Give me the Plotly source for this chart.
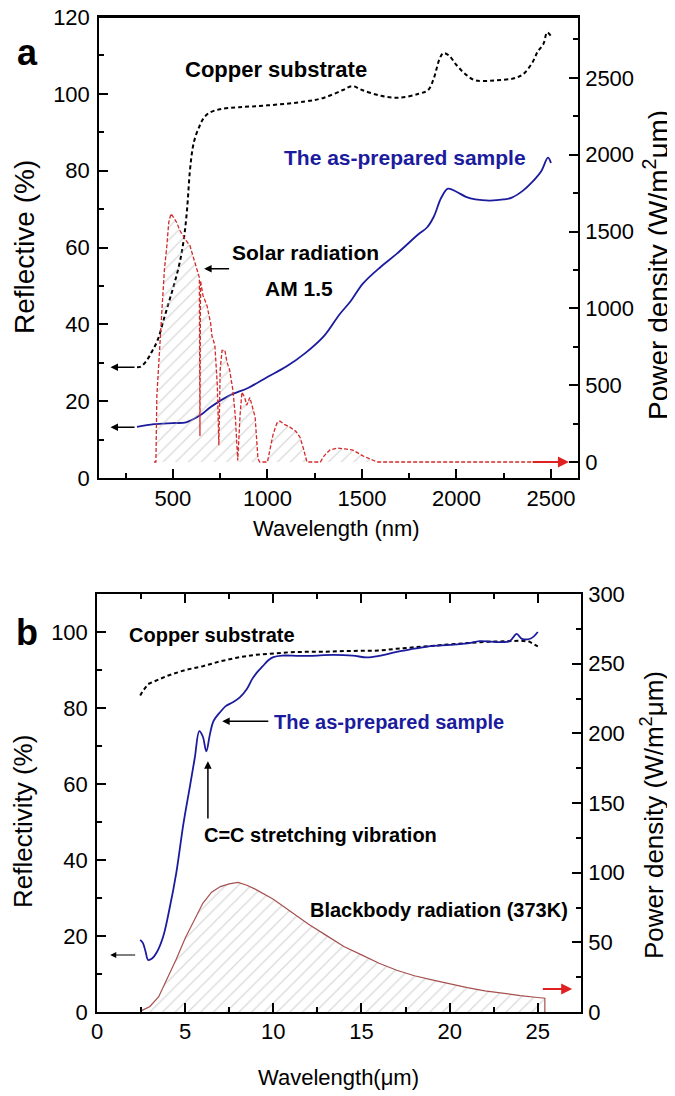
import plotly.graph_objects as go

# ---- panel a: UV-vis-NIR reflectance ----
cu_nm = [310, 330, 360, 390, 420, 450, 480, 510, 540, 560, 575, 590, 605, 620, 640, 660, 690,
         750, 850, 1000, 1200, 1300, 1400, 1450, 1500, 1600, 1700, 1800, 1850, 1880, 1910, 1930,
         1960, 2000, 2050, 2100, 2200, 2300, 2350, 2400, 2430, 2460, 2480, 2500]
cu_refl = [28.8, 29, 30.5, 33, 36, 41, 46, 51, 57, 63, 70, 80, 86, 89, 91.5, 93.5, 95,
           96, 96.5, 97, 98, 99, 101, 102, 101, 99.5, 99, 100, 101, 104, 109, 110.6,
           110, 107.5, 105, 103.5, 103.5, 104, 105, 108, 111, 113, 116, 115]

smp_nm = [310, 400, 500, 570, 650, 700, 800, 900, 1000, 1100, 1200, 1300, 1380, 1440, 1505,
          1600, 1685, 1800, 1844, 1880, 1920, 1955, 2000, 2050, 2100, 2177, 2250, 2293, 2352,
          2400, 2450, 2484, 2500]
smp_refl = [13.3, 14, 14.3, 14.5, 16.5, 18.5, 21.5, 23.5, 26.3, 29, 32.5, 37, 42.5, 46, 50.6,
            55, 58.4, 63.5, 65.2, 68, 73, 75.3, 74.5, 73.2, 72.5, 72.2, 72.5, 73, 74.8,
            77, 80, 83.4, 82]

solar_nm = [400, 410, 415, 425, 431, 440, 447, 455, 468, 478, 490, 500, 510, 521, 535, 553,
            570, 590, 605, 616, 630, 640, 643, 646, 659, 670, 680, 690, 700, 706, 715, 722,
            735, 743, 750, 760, 775, 786, 800, 810, 817, 830, 843, 855, 865, 880, 890, 907,
            920, 935, 950, 960, 1000, 1010, 1030, 1050, 1066, 1090, 1119, 1150, 1172, 1190,
            1209, 1280, 1300, 1330, 1368, 1410, 1452, 1505, 1580, 2500]
solar_pd = [0, 0, 430, 600, 760, 950, 1084, 1250, 1408, 1560, 1617, 1600, 1580, 1557, 1510, 1473,
            1440, 1408, 1350, 1298, 1240, 1200, 170, 1180, 1084, 1050, 1019, 960, 900, 824, 790, 760,
            500, 110, 600, 727, 727, 649, 600, 520, 470, 300, 10, 300, 455, 420, 370, 420,
            360, 292, 20, 0, 0, 60, 180, 253, 266, 245, 227, 200, 162, 90,
            0, 0, 40, 78, 91, 85, 78, 40, 0, 0]

# ---- panel b: mid-IR reflectance ----
cu2_um = [2.45, 2.6, 2.9, 3.5, 4, 5, 6, 7, 8, 9, 10, 11, 12, 13, 14, 15, 16, 17, 18, 19, 20,
          21, 22, 23, 24, 24.5, 25]
cu2_refl = [83.3, 84.5, 86.3, 87.5, 88.5, 90, 91, 92.3, 93.3, 94, 94.4, 94.7, 94.8, 94.8, 95, 95,
            95.1, 95.6, 96, 96.3, 96.7, 97.1, 97.4, 97.6, 97.7, 97.5, 96.2]

smp2_um = [2.45, 2.6, 2.75, 2.9, 3.1, 3.4, 3.75, 4.1, 4.5, 4.9, 5.27, 5.55, 5.8, 6.0, 6.2, 6.4,
           6.6, 7.0, 7.3, 7.7, 8.1, 8.5, 8.8, 9.1, 9.4, 9.7, 10, 10.5, 11.5, 12.5, 13.4, 14.5,
           15.3, 16, 17, 18, 18.9, 20, 21, 21.7, 22.5, 23.4, 23.8, 24.1, 24.6, 25]
smp2_refl = [19, 18.2, 16, 13.7, 14, 15.8, 19.8, 26.9, 36.7, 49.5, 59.4, 67, 73.9, 72.5, 68.6, 73,
             76.5, 79, 80.5, 81.5, 82.8, 85, 87.6, 89.5, 91, 92.5, 93.4, 93.8, 93.7, 93.8, 94, 93.8,
             93.3, 93.7, 94.8, 95.6, 96.3, 96.6, 97, 97.6, 97.4, 97.6, 99.5, 98.2, 98.3, 100]

bb_um = [2.5, 3, 3.5, 4, 4.5, 5, 5.5, 6, 6.5, 7, 7.5, 8, 8.5, 9, 10, 11, 12, 13, 14, 15, 16, 17,
         18, 19, 20, 21, 22, 23, 24, 25, 25.4, 25.4]
bb_pd = [0.8, 4, 11, 24, 38, 53, 66, 78, 86, 90, 92, 93, 91, 88, 81, 72, 63, 55, 47, 41, 35, 30,
         26, 23, 20, 17.5, 15.2, 13.4, 11.8, 10.4, 9.9, 0]

W, H = 675, 1096
PAGE_OFF = 8  # the html body margin moves the figure by 8 px
FONT = "Liberation Sans, Arial, sans-serif"
BLUE = "#1b1b9e"
hatch = dict(shape="/", fgcolor="#b4b4b4", bgcolor="rgba(0,0,0,0)", size=9, solidity=0.14)


def xp(px):
    return (px - PAGE_OFF) / W


def yp(py):
    return 1 - (py - PAGE_OFF) / H


fig = go.Figure()

# panel a traces
fig.add_trace(go.Scatter(x=solar_nm, y=solar_pd, xaxis="x", yaxis="y2", mode="lines",
                         line=dict(color="#d42a2a", width=1.3, dash="4px,2px"),
                         fill="tozeroy", fillpattern=hatch))
fig.add_trace(go.Scatter(x=cu_nm, y=cu_refl, xaxis="x", yaxis="y", mode="lines",
                         line=dict(color="black", width=2, dash="4px,3px", shape="spline")))
fig.add_trace(go.Scatter(x=smp_nm, y=smp_refl, xaxis="x", yaxis="y", mode="lines",
                         line=dict(color=BLUE, width=1.8, shape="spline")))

# panel b traces
fig.add_trace(go.Scatter(x=bb_um, y=bb_pd, xaxis="x2", yaxis="y4", mode="lines",
                         line=dict(color="#a5504f", width=1.2),
                         fill="tozeroy", fillpattern=hatch))
fig.add_trace(go.Scatter(x=cu2_um, y=cu2_refl, xaxis="x2", yaxis="y3", mode="lines",
                         line=dict(color="black", width=2, dash="4px,3px")))
fig.add_trace(go.Scatter(x=smp2_um, y=smp2_refl, xaxis="x2", yaxis="y3", mode="lines",
                         line=dict(color=BLUE, width=1.8, shape="spline")))

tickfont = dict(family=FONT, size=22, color="black")
axis_common = dict(showline=True, linecolor="black", linewidth=1.5, ticks="inside",
                   ticklen=9, tickwidth=1.5, tickcolor="black", showgrid=False,
                   zeroline=False, tickfont=tickfont, automargin=False,
                   ticklabeloverflow="allow")

TOP_A = 17  # top edge of panel a, px

fig.update_layout(
    width=W, height=H, autosize=False,
    margin=dict(l=0, r=0, t=0, b=0, pad=0, autoexpand=False),
    paper_bgcolor="white", plot_bgcolor="white", showlegend=False,
    xaxis=dict(axis_common, domain=[xp(99), xp(578)], range=[109, 2643], anchor="y",
               tickvals=[500, 1000, 1500, 2000, 2500], mirror=True, ticklabelstandoff=0,
               minor=dict(dtick=250, tick0=0, ticks="inside", ticklen=5, tickcolor="black")),
    yaxis=dict(axis_common, domain=[yp(478), yp(TOP_A)], range=[0, 120], anchor="x",
               dtick=20, ticklabelstandoff=3,
               minor=dict(dtick=10, ticks="inside", ticklen=5, tickcolor="black")),
    yaxis2=dict(axis_common, range=[-104, 2896], overlaying="y", side="right", anchor="x",
                tickvals=[0, 500, 1000, 1500, 2000, 2500], ticklabelstandoff=1,
                minor=dict(dtick=250, tick0=0, ticks="inside", ticklen=5, tickcolor="black")),
    xaxis2=dict(axis_common, domain=[xp(97), xp(581)], range=[0, 27.45], anchor="y3",
                dtick=5, mirror="ticks", ticklabelstandoff=-1,
                minor=dict(dtick=2.5, ticks="inside", ticklen=5, tickcolor="black")),
    yaxis3=dict(axis_common, domain=[yp(1012), yp(594)], range=[0, 110], anchor="x2",
                dtick=20, ticklabelstandoff=3,
                minor=dict(dtick=10, ticks="inside", ticklen=5, tickcolor="black")),
    yaxis4=dict(axis_common, range=[0, 300], overlaying="y3", side="right", anchor="x2",
                dtick=50, ticklabelstandoff=1,
                minor=dict(dtick=25, ticks="inside", ticklen=5, tickcolor="black")),
)

# top frame of panel a, drawn as a thin filled bar
fig.add_shape(type="rect", xref="paper", yref="paper", x0=xp(98), x1=xp(579),
              y0=yp(TOP_A + 1), y1=yp(TOP_A - 1), fillcolor="black",
              line=dict(width=0), layer="above")

ann = []


def label(text, x, y, size=22, color="black", bold=False, angle=0, xanchor="center"):
    t = "<b>%s</b>" % text if bold else text
    ann.append(dict(text=t, x=xp(x), y=yp(y), xref="paper", yref="paper", showarrow=False,
                    xanchor=xanchor, yanchor="middle", textangle=angle,
                    font=dict(family=FONT, size=size, color=color)))


def arrow(x, y, ax, ay, xref, yref, color="black", width=1.5, size=1.0):
    ann.append(dict(text="", x=x, y=y, ax=ax, ay=ay, xref=xref, yref=yref,
                    axref=xref, ayref=yref, showarrow=True, arrowhead=2,
                    arrowsize=size, arrowwidth=width, arrowcolor=color))


# panel letters
label("a", 27, 52, size=36, bold=True)
label("b", 27, 632, size=36, bold=True)

# axis titles
label("Reflective (%)", 24, 247, size=28, angle=-90)
label("Power density (W/m<sup>2</sup>μm)", 656, 265, size=28, angle=-90)
label("Wavelength (nm)", 336, 528)
label("Reflectivity (%)", 23, 822, size=26, angle=-90)
label("Power density (W/m<sup>2</sup>μm)", 653, 815, size=26, angle=-90)
label("Wavelength(μm)", 338, 1077)

# panel a text
label("Copper substrate", 183, 70, size=22, bold=True, xanchor="left")
label("The as-prepared sample", 282, 158, size=21, color=BLUE, bold=True, xanchor="left")
label("Solar radiation", 230, 253, size=21, bold=True, xanchor="left")
label("AM 1.5", 299, 288, size=21, bold=True)

# panel b text
label("Copper substrate", 127, 635, size=20, bold=True, xanchor="left")
label("The as-prepared sample", 272, 722, size=20, color=BLUE, bold=True, xanchor="left")
label("C=C stretching vibration", 202, 835, size=20, bold=True, xanchor="left")
label("Blackbody radiation (373K)", 570, 910, size=20, bold=True, xanchor="right")

# panel a arrows
arrow(170, 28.8, 305, 28.8, "x", "y")
arrow(170, 13.2, 305, 13.2, "x", "y")
arrow(665, 54.5, 805, 54.5, "x", "y")
arrow(2595, 0, 2395, 0, "x", "y2", color="#e02020", width=2.2)

# panel b arrows
arrow(0.75, 15, 2.25, 15, "x2", "y3", width=1.2)
arrow(7.1, 76.5, 9.8, 76.5, "x2", "y3")
arrow(6.29, 66, 6.29, 50.5, "x2", "y3")
arrow(26.95, 16.5, 25.2, 16.5, "x2", "y4", color="#e02020", width=2.2)

fig.update_layout(annotations=ann)

fig.write_html("out.html", config={"displayModeBar": False})
